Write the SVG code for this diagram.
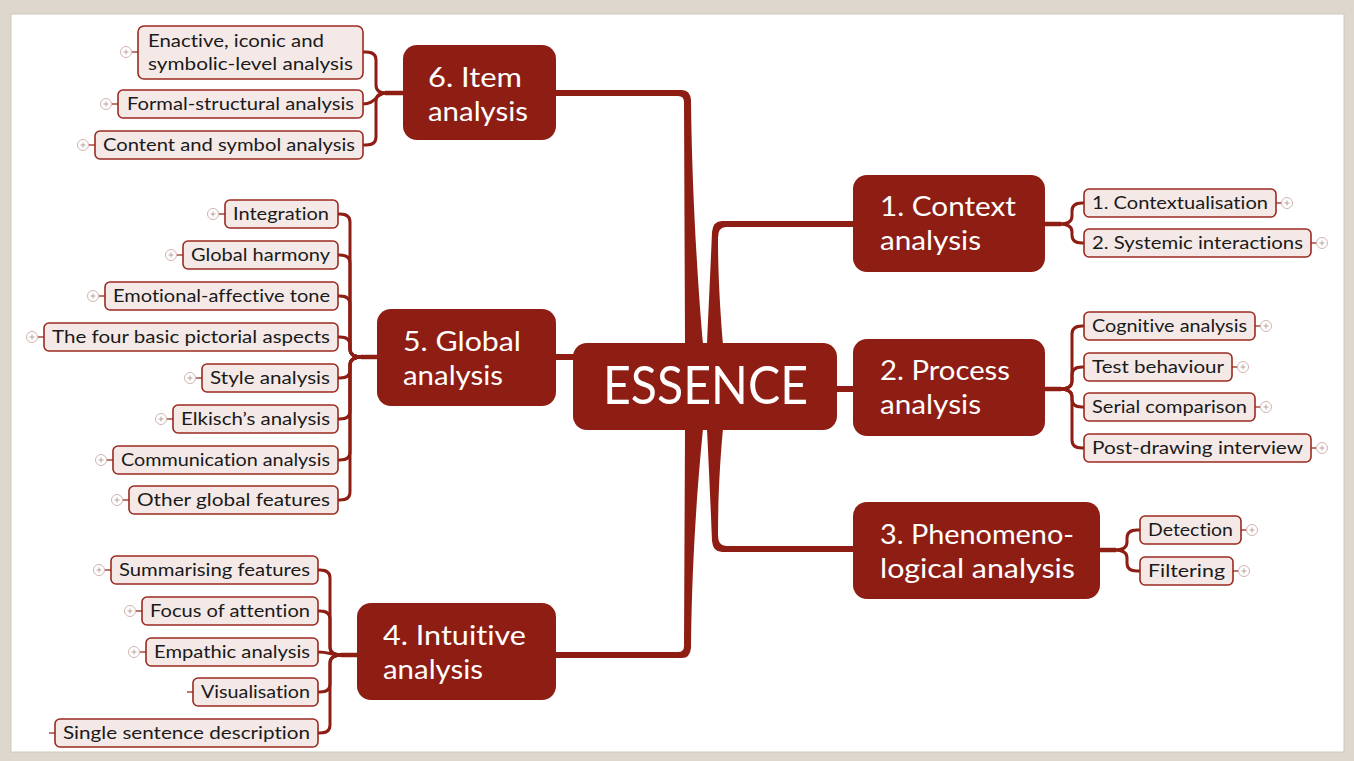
<svg xmlns="http://www.w3.org/2000/svg" width="1354" height="761" viewBox="0 0 1354 761">
<style>
.bg{fill:#ddd7cd}
.panel{fill:#ffffff;stroke:#cfc8bc;stroke-width:1}
.mn{fill:#8e1e13}
text{font-variant-ligatures:none;font-feature-settings:"liga" 0,"dlig" 0}
.mt{fill:#ffffff;font-family:Lato,"Liberation Sans",sans-serif;font-size:27px}
.et{fill:#ffffff;font-family:Lato,"Liberation Sans",sans-serif;font-size:52px}
.cb{fill:#f4e9e7;stroke:#9b2a1f;stroke-width:1.6}
.ct{fill:#1a1a1a;font-family:Lato,"Liberation Sans",sans-serif;font-size:17px}
.br{fill:none;stroke:#8e1e13;stroke-width:3;stroke-linecap:round}
.stub{fill:none;stroke:#8e1e13;stroke-width:4.5}
.trunk{fill:#8e1e13}
.pc{fill:#ffffff;stroke:#d2b3ae;stroke-width:1}
.pl{stroke:#b9a3a0;stroke-width:1}
.tk{stroke:#9b2a1f;stroke-width:1.3}
</style>
<defs>
<g id="plus"><circle class="pc" r="5.5"/><path class="pl" d="M-2.5 0H2.5M0 -2.5V2.5"/></g>
</defs>
<rect class="bg" x="0" y="0" width="1354" height="761"/>
<rect class="panel" x="11" y="14" width="1333" height="738"/>

<g id="connectors">
  <path class="trunk" d="M556 90 H682 Q690 90 691 100 C692 200 699 300 703 344 L685 344 L684 102 Q684 96 678 96 H556 Z"/>
  <path class="trunk" d="M556 658 H682 Q690 658 691 648 C692 548 699 470 703 429 L685 429 L684 646 Q684 652 678 652 H556 Z"/>
  <path class="trunk" d="M853 221 H722 Q713 221 712 232 C710 280 708 320 707 344 L723 344 C721 320 718 280 718 238 Q718 227 726 227 H853 Z"/>
  <path class="trunk" d="M853 552 H722 Q713 552 712 541 C710 490 708 450 707 429 L723 429 C721 450 718 490 718 535 Q718 546 726 546 H853 Z"/>
  <rect class="trunk" x="554" y="354" width="21" height="6"/>
  <rect class="trunk" x="835" y="386" width="20" height="6"/>

  <path class="stub" d="M403 93 H385"/>
  <path class="br" d="M386 93 Q376 93 376 85 V60 Q376 52 366 52 H363"/>
  <path class="br" d="M386 93 C376 93 376 104 363 104"/>
  <path class="br" d="M386 93 Q376 93 376 101 V137 Q376 145 366 145 H363"/>

  <path class="stub" d="M377 357 H361"/>
  <path class="br" d="M362 357 Q350 357 350 349 V222 Q350 214 340 214 H338"/>
  <path class="br" d="M362 357 Q350 357 350 349 V263 Q350 255 340 255 H338"/>
  <path class="br" d="M362 357 Q350 357 350 349 V304 Q350 296 340 296 H338"/>
  <path class="br" d="M362 357 Q350 357 350 349 V345 Q350 337 340 337 H338"/>
  <path class="br" d="M362 357 Q350 357 350 365 V370 Q350 378 340 378 H338"/>
  <path class="br" d="M362 357 Q350 357 350 365 V411 Q350 419 340 419 H338"/>
  <path class="br" d="M362 357 Q350 357 350 365 V452 Q350 460 340 460 H338"/>
  <path class="br" d="M362 357 Q350 357 350 365 V492 Q350 500 340 500 H338"/>

  <path class="stub" d="M357 655 H341"/>
  <path class="br" d="M342 655 Q330 655 330 647 V578 Q330 570 320 570 H318"/>
  <path class="br" d="M342 655 Q330 655 330 647 V619 Q330 611 320 611 H318"/>
  <path class="br" d="M342 655 C330 655 330 652 318 652"/>
  <path class="br" d="M342 655 Q330 655 330 663 V684 Q330 692 320 692 H318"/>
  <path class="br" d="M342 655 Q330 655 330 663 V725 Q330 733 320 733 H318"/>

  <path class="stub" d="M1045 224 H1061"/>
  <path class="br" d="M1060 224 Q1072 224 1072 216 V211 Q1072 203 1082 203 H1084"/>
  <path class="br" d="M1060 224 Q1072 224 1072 232 V235 Q1072 243 1082 243 H1084"/>

  <path class="stub" d="M1045 389 H1061"/>
  <path class="br" d="M1060 389 Q1072 389 1072 381 V334 Q1072 326 1082 326 H1084"/>
  <path class="br" d="M1060 389 Q1072 389 1072 381 V375 Q1072 367 1082 367 H1084"/>
  <path class="br" d="M1060 389 Q1072 389 1072 397 V399 Q1072 407 1082 407 H1084"/>
  <path class="br" d="M1060 389 Q1072 389 1072 397 V440 Q1072 448 1082 448 H1084"/>

  <path class="stub" d="M1100 550 H1116"/>
  <path class="br" d="M1115 550 Q1127 550 1127 542 V538 Q1127 530 1137 530 H1140"/>
  <path class="br" d="M1115 550 Q1127 550 1127 558 V563 Q1127 571 1137 571 H1140"/>
</g>

<g id="essence"><rect class="mn" x="573" y="343" width="264" height="87" rx="14"/><text class="et" x="603" y="404" textLength="205" lengthAdjust="spacingAndGlyphs">ESSENCE</text></g>
<g id="item"><rect class="mn" x="403" y="45" width="153" height="95" rx="14"/><text class="mt" x="428" y="87" textLength="94" lengthAdjust="spacingAndGlyphs">6. Item</text><text class="mt" x="428" y="121" textLength="100" lengthAdjust="spacingAndGlyphs">analysis</text></g>
<g id="global"><rect class="mn" x="377" y="309" width="179" height="97" rx="14"/><text class="mt" x="403" y="351" textLength="118" lengthAdjust="spacingAndGlyphs">5. Global</text><text class="mt" x="403" y="385" textLength="100" lengthAdjust="spacingAndGlyphs">analysis</text></g>
<g id="intuitive"><rect class="mn" x="357" y="603" width="199" height="97" rx="14"/><text class="mt" x="383" y="645" textLength="143" lengthAdjust="spacingAndGlyphs">4. Intuitive</text><text class="mt" x="383" y="679" textLength="100" lengthAdjust="spacingAndGlyphs">analysis</text></g>
<g id="context"><rect class="mn" x="853" y="175" width="192" height="97" rx="14"/><text class="mt" x="880" y="216" textLength="136" lengthAdjust="spacingAndGlyphs">1. Context</text><text class="mt" x="880" y="250" textLength="101" lengthAdjust="spacingAndGlyphs">analysis</text></g>
<g id="process"><rect class="mn" x="853" y="339" width="192" height="97" rx="14"/><text class="mt" x="880" y="380" textLength="130" lengthAdjust="spacingAndGlyphs">2. Process</text><text class="mt" x="880" y="414" textLength="101" lengthAdjust="spacingAndGlyphs">analysis</text></g>
<g id="phenomeno"><rect class="mn" x="853" y="502" width="247" height="97" rx="14"/><text class="mt" x="880" y="544" textLength="194" lengthAdjust="spacingAndGlyphs">3. Phenomeno-</text><text class="mt" x="880" y="578" textLength="195" lengthAdjust="spacingAndGlyphs">logical analysis</text></g>

<g id="enactive"><line class="tk" x1="132" y1="52" x2="138" y2="52"/><use href="#plus" x="126" y="52"/><rect class="cb" x="138" y="26" width="225" height="53" rx="6"/><text class="ct" x="148" y="47" textLength="176" lengthAdjust="spacingAndGlyphs">Enactive, iconic and</text><text class="ct" x="148" y="70" textLength="205" lengthAdjust="spacingAndGlyphs">symbolic-level analysis</text></g>
<g id="formal"><line class="tk" x1="112" y1="104" x2="118" y2="104"/><use href="#plus" x="106" y="104"/><rect class="cb" x="118" y="90" width="245" height="28" rx="5"/><text class="ct" x="127" y="110" textLength="227" lengthAdjust="spacingAndGlyphs">Formal-structural analysis</text></g>
<g id="content"><line class="tk" x1="89" y1="145" x2="95" y2="145"/><use href="#plus" x="83" y="145"/><rect class="cb" x="95" y="131" width="268" height="28" rx="5"/><text class="ct" x="103" y="151" textLength="252" lengthAdjust="spacingAndGlyphs">Content and symbol analysis</text></g>

<g id="integration"><line class="tk" x1="219" y1="214" x2="225" y2="214"/><use href="#plus" x="213" y="214"/><rect class="cb" x="225" y="200" width="113" height="28" rx="5"/><text class="ct" x="233" y="220" textLength="96" lengthAdjust="spacingAndGlyphs">Integration</text></g>
<g id="harmony"><line class="tk" x1="177" y1="255" x2="183" y2="255"/><use href="#plus" x="171" y="255"/><rect class="cb" x="183" y="241" width="155" height="28" rx="5"/><text class="ct" x="191" y="261" textLength="139" lengthAdjust="spacingAndGlyphs">Global harmony</text></g>
<g id="emotional"><line class="tk" x1="99" y1="296" x2="105" y2="296"/><use href="#plus" x="93" y="296"/><rect class="cb" x="105" y="282" width="233" height="28" rx="5"/><text class="ct" x="113" y="302" textLength="217" lengthAdjust="spacingAndGlyphs">Emotional-affective tone</text></g>
<g id="fourbasic"><line class="tk" x1="38" y1="337" x2="44" y2="337"/><use href="#plus" x="32" y="337"/><rect class="cb" x="44" y="323" width="294" height="28" rx="5"/><text class="ct" x="52" y="343" textLength="278" lengthAdjust="spacingAndGlyphs">The four basic pictorial aspects</text></g>
<g id="style"><line class="tk" x1="196" y1="378" x2="202" y2="378"/><use href="#plus" x="190" y="378"/><rect class="cb" x="202" y="364" width="136" height="28" rx="5"/><text class="ct" x="210" y="384" textLength="120" lengthAdjust="spacingAndGlyphs">Style analysis</text></g>
<g id="elkisch"><line class="tk" x1="167" y1="419" x2="173" y2="419"/><use href="#plus" x="161" y="419"/><rect class="cb" x="173" y="405" width="165" height="28" rx="5"/><text class="ct" x="181" y="425" textLength="149" lengthAdjust="spacingAndGlyphs">Elkisch’s analysis</text></g>
<g id="communication"><line class="tk" x1="107" y1="460" x2="113" y2="460"/><use href="#plus" x="101" y="460"/><rect class="cb" x="113" y="446" width="225" height="28" rx="5"/><text class="ct" x="121" y="466" textLength="209" lengthAdjust="spacingAndGlyphs">Communication analysis</text></g>
<g id="otherglobal"><line class="tk" x1="123" y1="500" x2="129" y2="500"/><use href="#plus" x="117" y="500"/><rect class="cb" x="129" y="486" width="209" height="28" rx="5"/><text class="ct" x="137" y="506" textLength="193" lengthAdjust="spacingAndGlyphs">Other global features</text></g>

<g id="summarising"><line class="tk" x1="105" y1="570" x2="111" y2="570"/><use href="#plus" x="99" y="570"/><rect class="cb" x="111" y="556" width="207" height="28" rx="5"/><text class="ct" x="119" y="576" textLength="191" lengthAdjust="spacingAndGlyphs">Summarising features</text></g>
<g id="focus"><line class="tk" x1="136" y1="611" x2="142" y2="611"/><use href="#plus" x="130" y="611"/><rect class="cb" x="142" y="597" width="176" height="28" rx="5"/><text class="ct" x="150" y="617" textLength="160" lengthAdjust="spacingAndGlyphs">Focus of attention</text></g>
<g id="empathic"><line class="tk" x1="140" y1="652" x2="146" y2="652"/><use href="#plus" x="134" y="652"/><rect class="cb" x="146" y="638" width="172" height="28" rx="5"/><text class="ct" x="154" y="658" textLength="156" lengthAdjust="spacingAndGlyphs">Empathic analysis</text></g>
<g id="visualisation"><line class="tk" x1="187" y1="692" x2="193" y2="692"/><rect class="cb" x="193" y="678" width="125" height="28" rx="5"/><text class="ct" x="201" y="698" textLength="109" lengthAdjust="spacingAndGlyphs">Visualisation</text></g>
<g id="single"><line class="tk" x1="49" y1="733" x2="55" y2="733"/><rect class="cb" x="55" y="719" width="263" height="28" rx="5"/><text class="ct" x="63" y="739" textLength="247" lengthAdjust="spacingAndGlyphs">Single sentence description</text></g>

<g id="contextualisation"><line class="tk" x1="1276" y1="203" x2="1282" y2="203"/><use href="#plus" x="1287" y="203"/><rect class="cb" x="1084" y="189" width="192" height="28" rx="5"/><text class="ct" x="1092" y="209" textLength="176" lengthAdjust="spacingAndGlyphs">1. Contextualisation</text></g>
<g id="systemic"><line class="tk" x1="1311" y1="243" x2="1317" y2="243"/><use href="#plus" x="1322" y="243"/><rect class="cb" x="1084" y="229" width="227" height="28" rx="5"/><text class="ct" x="1092" y="249" textLength="211" lengthAdjust="spacingAndGlyphs">2. Systemic interactions</text></g>

<g id="cognitive"><line class="tk" x1="1255" y1="326" x2="1261" y2="326"/><use href="#plus" x="1266" y="326"/><rect class="cb" x="1084" y="312" width="171" height="28" rx="5"/><text class="ct" x="1092" y="332" textLength="155" lengthAdjust="spacingAndGlyphs">Cognitive analysis</text></g>
<g id="testbehaviour"><line class="tk" x1="1232" y1="367" x2="1238" y2="367"/><use href="#plus" x="1243" y="367"/><rect class="cb" x="1084" y="353" width="148" height="28" rx="5"/><text class="ct" x="1092" y="373" textLength="132" lengthAdjust="spacingAndGlyphs">Test behaviour</text></g>
<g id="serial"><line class="tk" x1="1255" y1="407" x2="1261" y2="407"/><use href="#plus" x="1266" y="407"/><rect class="cb" x="1084" y="393" width="171" height="28" rx="5"/><text class="ct" x="1092" y="413" textLength="155" lengthAdjust="spacingAndGlyphs">Serial comparison</text></g>
<g id="postdrawing"><line class="tk" x1="1311" y1="448" x2="1317" y2="448"/><use href="#plus" x="1322" y="448"/><rect class="cb" x="1084" y="434" width="227" height="28" rx="5"/><text class="ct" x="1092" y="454" textLength="211" lengthAdjust="spacingAndGlyphs">Post-drawing interview</text></g>

<g id="detection"><line class="tk" x1="1241" y1="530" x2="1247" y2="530"/><use href="#plus" x="1252" y="530"/><rect class="cb" x="1140" y="516" width="101" height="28" rx="5"/><text class="ct" x="1148" y="536" textLength="85" lengthAdjust="spacingAndGlyphs">Detection</text></g>
<g id="filtering"><line class="tk" x1="1233" y1="571" x2="1239" y2="571"/><use href="#plus" x="1244" y="571"/><rect class="cb" x="1140" y="557" width="93" height="28" rx="5"/><text class="ct" x="1148" y="577" textLength="77" lengthAdjust="spacingAndGlyphs">Filtering</text></g>
</svg>
